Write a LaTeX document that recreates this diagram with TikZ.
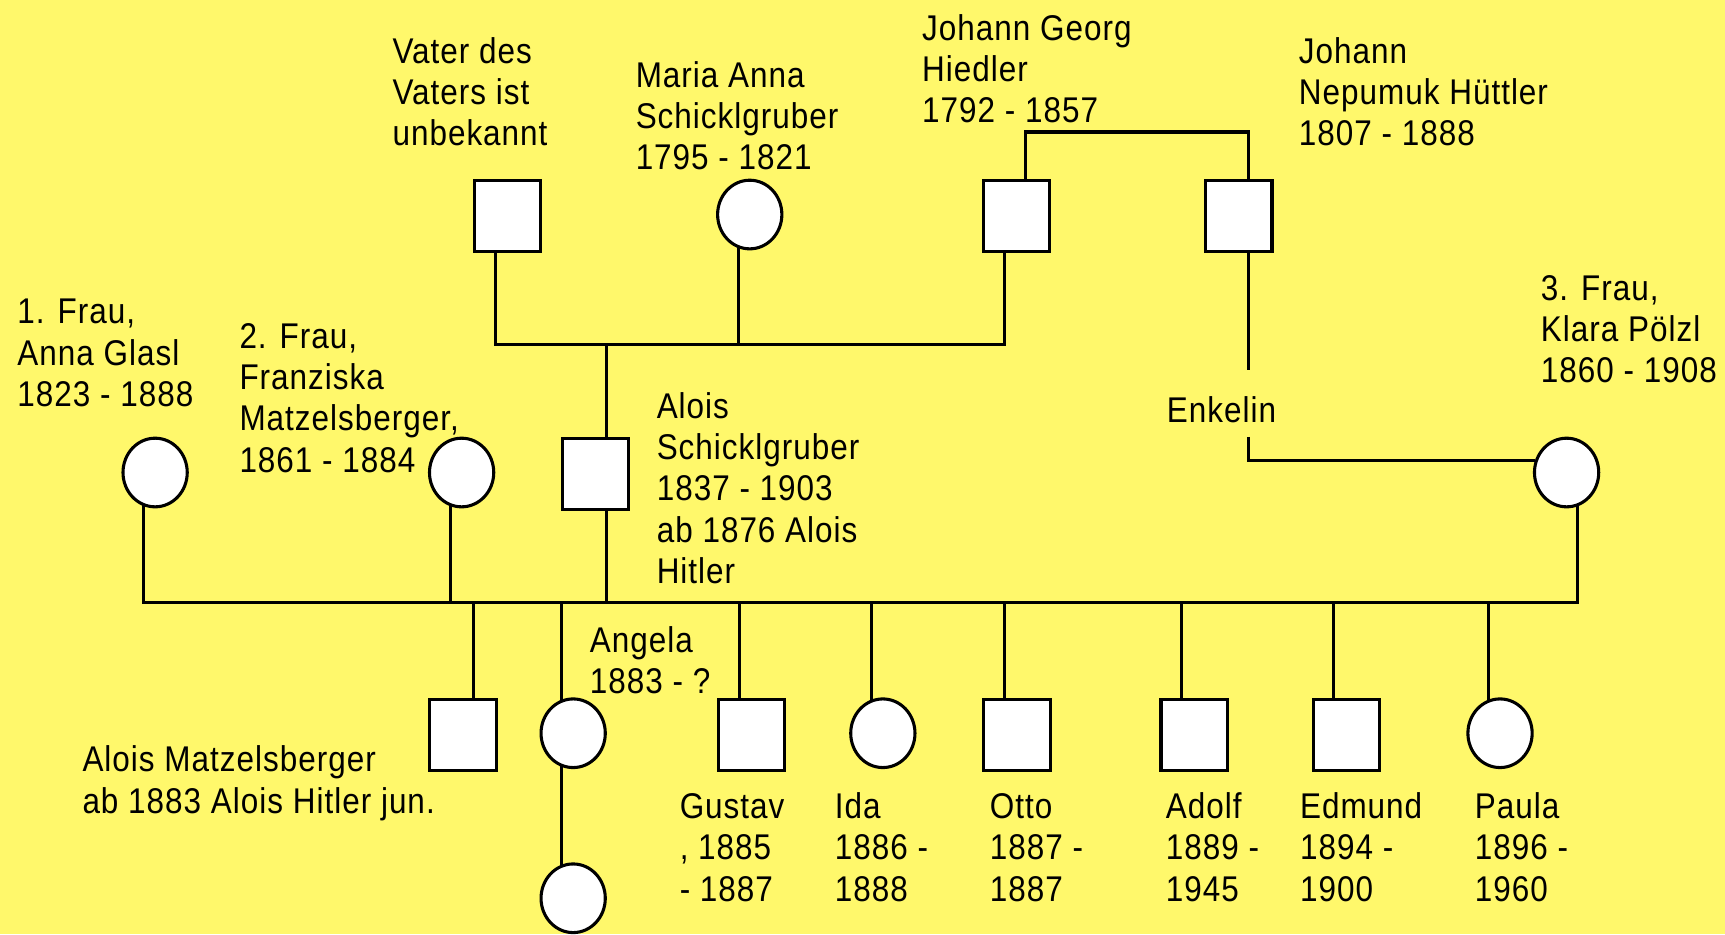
\documentclass[tikz,border=0pt]{standalone}
\usepackage{fontspec}
\setmainfont{Liberation Sans}[FakeStretch=0.88,LetterSpace=2.8]
\usetikzlibrary{shapes.geometric,calc}
\definecolor{bgyellow}{HTML}{FFF86B}
\pgfdeclarelayer{bg}
\pgfdeclarelayer{wires}
\pgfsetlayers{bg,wires,main}
\begin{document}
\begin{tikzpicture}[x=1pt,y=-1pt,
  male/.style={draw,fill=white,line width=2.8pt,minimum width=60.4pt,minimum height=65pt,inner sep=0pt},
  female/.style={ellipse,draw,fill=white,line width=2.8pt,minimum width=58.4pt,minimum height=62.4pt,inner sep=0pt},
  txt/.style={anchor=base west,align=left,inner sep=0pt,font=\fontsize{32.5}{37.5}\selectfont},
  wire/.style={line width=2.8pt}]
\useasboundingbox (0,0) rectangle (1568,849);
\begin{pgfonlayer}{bg}
\fill[bgyellow] (0,0) rectangle (1568,849);
\end{pgfonlayer}

% persons
\node[male]   (vater)    at (461.5,196.5) {};
\node[female] (maria)    at (681.5,195) {};
\node[male]   (hiedler)  at (924,196.5) {};
\node[male]   (huettler) at (1126,196.5) {};
\node[female] (anna)     at (141,429.5) {};
\node[female] (franz)    at (419.6,429.5) {};
\node[male]   (alois)    at (541.5,431) {};
\node[female] (klara)    at (1424,429.5) {};
\node[male]   (am)       at (421,668) {};
\node[female] (angela)   at (521,666.5) {};
\node[female] (angela2)  at (521,816.5) {};
\node[male]   (gustav)   at (683,668) {};
\node[female] (ida)      at (802.5,666.5) {};
\node[male]   (otto)     at (924.5,668) {};
\node[male]   (adolf)    at (1085.5,668) {};
\node[male]   (edmund)   at (1224,668) {};
\node[female] (paula)    at (1363.5,666.5) {};

% texts (anchored at the baseline of their last line)
\node[txt] (tvater)   at (356.6,132.6) {Vater des\\Vaters ist\\unbekannt};
\node[txt] (tmaria)   at (577.7,154.4) {Maria Anna\\Schicklgruber\\1795 - 1821};
\node[txt] (thiedler) at (838,111.4) {Johann Georg\\Hiedler\\1792 - 1857};
\node[txt] (thuett)   at (1180.5,132.6) {Johann\\Nepumuk Hüttler\\1807 - 1888};
\node[txt] (tanna)    at (15.7,369.5) {1. Frau,\\Anna Glasl\\1823 - 1888};
\node[txt] (tfranz)   at (217.5,429.2) {2. Frau,\\Franziska\\Matzelsberger,\\1861 - 1884};
\node[txt] (talois)   at (596.8,530.3) {Alois\\Schicklgruber\\1837 - 1903\\ab 1876 Alois\\Hitler};
\node[txt] (enkelin)  at (1060.5,384.3) {Enkelin};
\node[txt] (tklara)   at (1400.5,348.1) {3. Frau,\\Klara Pölzl\\1860 - 1908};
\node[txt] (tangela)  at (536,630.8) {Angela\\1883 - ?};
\node[txt] (tam)      at (74.8,739) {Alois Matzelsberger\\ab 1883 Alois Hitler jun.};
\node[txt] (tgustav)  at (617.7,819) {Gustav\\, 1885\\- 1887};
\node[txt] (tida)     at (758.6,819) {Ida\\1886 -\\1888};
\node[txt] (totto)    at (899.5,819) {Otto\\1887 -\\1887};
\node[txt] (tadolf)   at (1059.5,819) {Adolf\\1889 -\\1945};
\node[txt] (tedmund)  at (1181.5,819) {Edmund\\1894 -\\1900};
\node[txt] (tpaula)   at (1340.5,819) {Paula\\1896 -\\1960};

% connectors
\coordinate (topbar) at (0,313);
\coordinate (bar) at (0,548);
\coordinate (hbar) at (0,120);
\coordinate (enkA) at (1134.5,336);
\coordinate (enkB) at (1134.5,397);
\begin{pgfonlayer}{wires}
\draw[wire] ([xshift=8pt]hiedler.center) |- ([xshift=8.5pt]huettler.center |- hbar) -- ([xshift=8.5pt]huettler.center);
\draw[wire] ([xshift=8.5pt]huettler.center) -- (enkA);
\draw[wire] (enkB) |- (klara.160);
\draw[wire] ([xshift=-11pt]vater.center) |- ([xshift=-11pt]hiedler.center |- topbar) -- ([xshift=-11pt]hiedler.center);
\draw[wire] ([xshift=-10.5pt]maria.center) -- ([xshift=-10.5pt]maria.center |- topbar);
\draw[wire] ([xshift=9.5pt]alois.center |- topbar) -- ([xshift=9.5pt]alois.center |- bar);
\draw[wire] ([xshift=-10.5pt]anna.center) |- ([xshift=10pt]klara.center |- bar) -- ([xshift=10pt]klara.center);
\draw[wire] ([xshift=-10pt]franz.center) -- ([xshift=-10pt]franz.center |- bar);
\draw[wire] ([xshift=9pt]am.center) -- ([xshift=9pt]am.center |- bar);
\draw[wire] ([xshift=-10.5pt]angela.center |- bar) -- ([xshift=-10.5pt]angela2.center);
\draw[wire] ([xshift=-11pt]gustav.center) -- ([xshift=-11pt]gustav.center |- bar);
\draw[wire] ([xshift=-10.5pt]ida.center) -- ([xshift=-10.5pt]ida.center |- bar);
\draw[wire] ([xshift=-11.5pt]otto.center) -- ([xshift=-11.5pt]otto.center |- bar);
\draw[wire] ([xshift=-11.5pt]adolf.center) -- ([xshift=-11.5pt]adolf.center |- bar);
\draw[wire] ([xshift=-12pt]edmund.center) -- ([xshift=-12pt]edmund.center |- bar);
\draw[wire] ([xshift=-10.5pt]paula.center) -- ([xshift=-10.5pt]paula.center |- bar);
\end{pgfonlayer}
\end{tikzpicture}
\end{document}
